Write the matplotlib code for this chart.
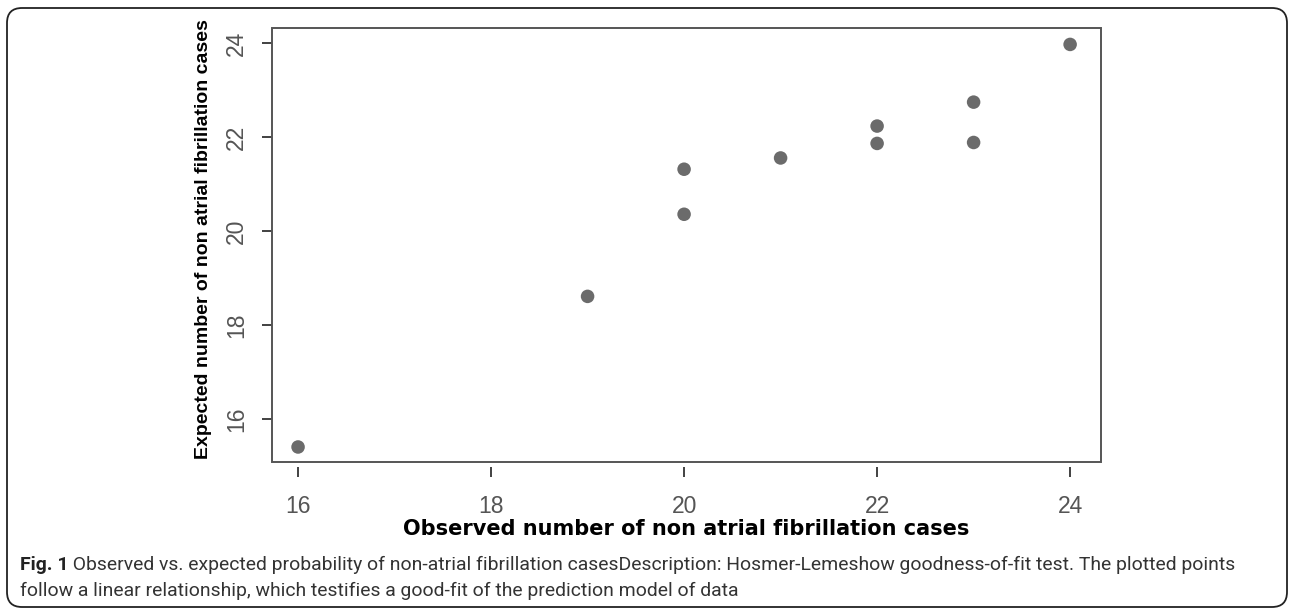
import matplotlib
matplotlib.use("Agg")
import matplotlib.pyplot as plt
from matplotlib.patches import FancyBboxPatch, Rectangle
from matplotlib.transforms import IdentityTransform

# ---- data ----
observed = [16, 19, 20, 20, 21, 22, 22, 23, 23, 24]
expected = [15.40, 18.61, 20.36, 21.32, 21.56, 21.87, 22.24, 21.89, 22.75, 23.98]
x_ticks = [16, 18, 20, 22, 24]
y_ticks = [16, 18, 20, 22, 24]
x_label = "Observed number of non atrial fibrillation cases"
y_label = "Expected number of non atrial fibrillation cases"
caption_bold = "Fig. 1"
caption_line1 = (" Observed vs. expected probability of non-atrial fibrillation casesDescription: "
                 "Hosmer-Lemeshow goodness-of-fit test. The plotted points")
caption_line2 = "follow a linear relationship, which testifies a good-fit of the prediction model of data"

W, H = 1290, 609
DPI = 100
fig = plt.figure(figsize=(W / DPI, H / DPI), dpi=DPI)
fig.patch.set_facecolor("white")

ax = fig.add_axes([272 / W, 1 - 462 / H, (1101 - 272) / W, (462 - 28) / H])
ax.scatter(observed, expected, s=95, color="#6b6b6b", edgecolors="none", zorder=3)
ax.set_xlim(15.73, 24.32)
ax.set_ylim(15.08, 24.33)
ax.set_xticks(x_ticks)
ax.set_yticks(y_ticks)

for sp in ax.spines.values():
    sp.set_visible(False)
ax.spines["bottom"].set_position(("outward", 3.6))
ax.add_patch(Rectangle((0, 0), 1, 1, transform=ax.transAxes, fill=False,
                       edgecolor="#555555", linewidth=1.4, clip_on=False, zorder=4))

tick_font = "Liberation Sans"
ax.tick_params(axis="x", length=7.2, width=1.3, color="#333333", pad=13,
               labelsize=16.5, labelcolor="#555555")
ax.tick_params(axis="y", length=7.2, width=1.3, color="#333333", pad=10,
               labelsize=16.5, labelcolor="#555555")
for lab in ax.get_xticklabels():
    lab.set_fontfamily(tick_font)
for lab in ax.get_yticklabels():
    lab.set_fontfamily(tick_font)
    lab.set_rotation(90)
    lab.set_va("center")

fig.text(686.5 / W, 1 - 529 / H, x_label, ha="center", va="center",
         fontsize=15, fontweight="bold", family="DejaVu Sans", color="black")
fig.text(203 / W, 1 - 239 / H, y_label, ha="center", va="center", rotation=90,
         fontsize=14, fontweight="bold", family="Liberation Sans", color="black")

# caption
cap_font = "Roboto"
cap_size = 15.5
t_b = fig.text(20 / W, 1 - 570 / H, caption_bold, ha="left", va="baseline",
               fontsize=cap_size, fontweight="bold", family=cap_font, color="#222222")
fig.canvas.draw()
r = fig.canvas.get_renderer()
bb = t_b.get_window_extent(r)
t1 = fig.text(bb.x1 / W, 1 - 570 / H, caption_line1, ha="left", va="baseline",
              fontsize=cap_size, family=cap_font, color="#333333")
fig.canvas.draw()
bb1 = t1.get_window_extent(r)
total = bb1.x1 - 20
scale = (1233 - 20) / total
cap_size2 = cap_size * scale
t_b.set_fontsize(cap_size2)
fig.canvas.draw()
bb = t_b.get_window_extent(r)
t1.set_fontsize(cap_size2)
t1.set_x(bb.x1 / W)
fig.text(20 / W, 1 - 596 / H, caption_line2, ha="left", va="baseline",
         fontsize=cap_size2, family=cap_font, color="#333333")

# outer rounded border
border = FancyBboxPatch((7, 2), 1280, 599, boxstyle="round,pad=0,rounding_size=15",
                        transform=IdentityTransform(), fill=False,
                        edgecolor="#222222", linewidth=1.3)
fig.patches.append(border)

fig.savefig("out.png", dpi=DPI, facecolor="white")
